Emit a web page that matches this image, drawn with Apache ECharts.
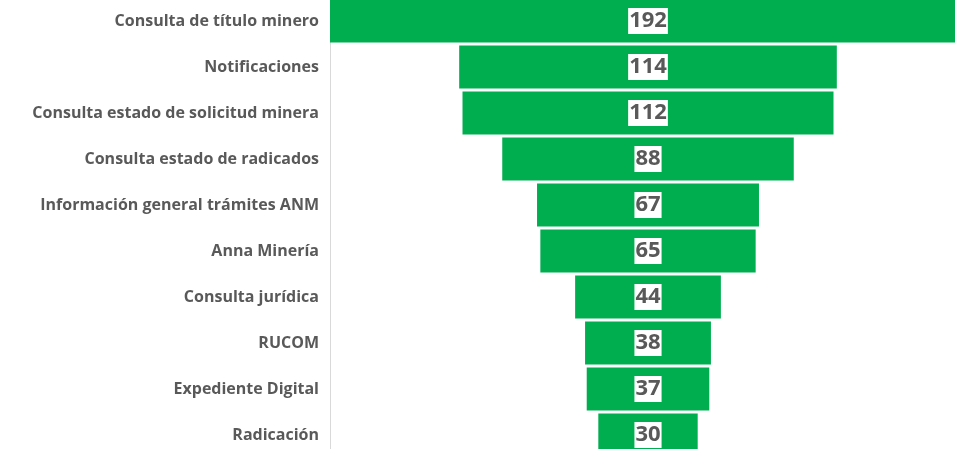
<!DOCTYPE html>
<html>
<head>
<meta charset="utf-8">
<script src="https://cdn.jsdelivr.net/npm/echarts@6/dist/echarts.min.js"></script>
<style>
  html, body { margin: 0; padding: 0; background: #fff; }
  #chart { width: 955px; height: 449px; }
</style>
</head>
<body>
<div id="chart"></div>
<script>
// categorias de arriba hacia abajo
var categorias = [
  "Consulta de título minero",
  "Notificaciones",
  "Consulta estado de solicitud minera",
  "Consulta estado de radicados",
  "Información general trámites ANM",
  "Anna Minería",
  "Consulta jurídica",
  "RUCOM",
  "Expediente Digital",
  "Radicación"
];
var valores = [192, 114, 112, 88, 67, 65, 44, 38, 37, 30];

var maximo = Math.max.apply(null, valores);
// relleno transparente para centrar cada barra (efecto embudo)
var relleno = valores.map(function (v) { return (maximo - v) / 2; });

var chart = echarts.init(document.getElementById("chart"));
chart.setOption({
  animation: false,
  grid: {
    left: 330,
    top: -2,
    width: 636,
    height: 460,
    outerBoundsMode: "none",
    containLabel: false
  },
  xAxis: {
    type: "value",
    min: 0,
    max: maximo,
    show: false
  },
  yAxis: {
    type: "category",
    inverse: true,
    data: categorias,
    axisTick: { show: false },
    axisLine: { lineStyle: { color: "#d9d9d9" } },
    axisLabel: {
      color: "#595959",
      fontSize: 16,
      fontWeight: "bold",
      fontFamily: "Open Sans",
      margin: 11
    }
  },
  series: [
    {
      type: "bar",
      stack: "embudo",
      data: relleno,
      itemStyle: { color: "transparent" },
      silent: true,
      barCategoryGap: "6.5%"
    },
    {
      type: "bar",
      stack: "embudo",
      data: valores,
      barCategoryGap: "6.5%",
      itemStyle: { color: "#00AE4F" },
      label: {
        show: true,
        position: "inside",
        color: "#595959",
        fontSize: 22,
        fontWeight: "bold",
        fontFamily: "Open Sans",
        backgroundColor: "#fff",
        padding: [1, 1, 0, 1],
        lineHeight: 25
      }
    }
  ]
});
</script>
</body>
</html>
